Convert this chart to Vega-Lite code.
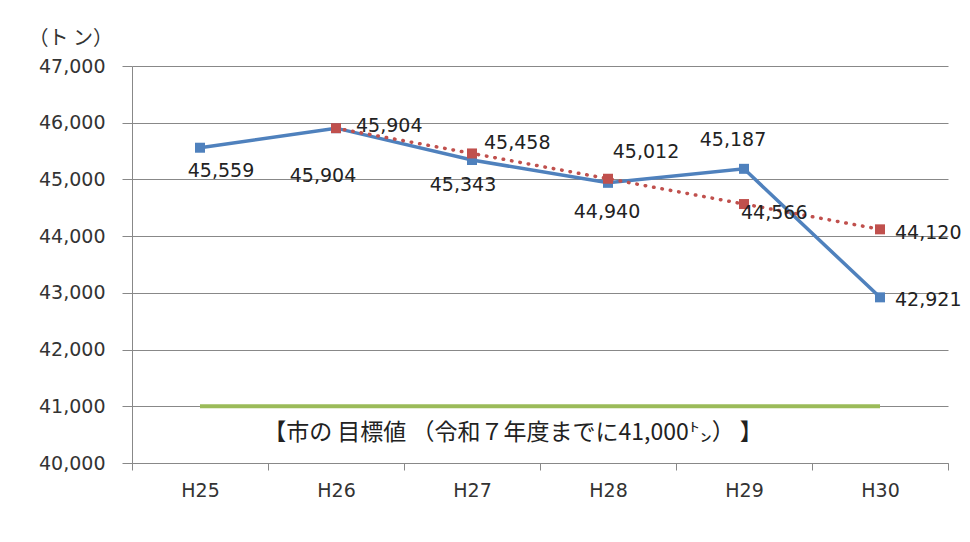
{
  "$schema": "https://vega.github.io/schema/vega-lite/v6.json",
  "width": 816,
  "height": 397,
  "autosize": {"type": "none"},
  "padding": {"left": 132, "top": 66, "right": 22, "bottom": 79},
  "background": "white",
  "config": {"view": {"stroke": null}},
  "data": {
    "values": [
      {"year": "H25", "series": "actual", "value": 45559},
      {"year": "H26", "series": "actual", "value": 45904},
      {"year": "H27", "series": "actual", "value": 45343},
      {"year": "H28", "series": "actual", "value": 44940},
      {"year": "H29", "series": "actual", "value": 45187},
      {"year": "H30", "series": "actual", "value": 42921},
      {"year": "H26", "series": "plan", "value": 45904},
      {"year": "H27", "series": "plan", "value": 45458},
      {"year": "H28", "series": "plan", "value": 45012},
      {"year": "H29", "series": "plan", "value": 44566},
      {"year": "H30", "series": "plan", "value": 44120},
      {"year": "H25", "series": "target", "value": 41000},
      {"year": "H26", "series": "target", "value": 41000},
      {"year": "H27", "series": "target", "value": 41000},
      {"year": "H28", "series": "target", "value": 41000},
      {"year": "H29", "series": "target", "value": 41000},
      {"year": "H30", "series": "target", "value": 41000},
      {"year": "H27", "series": "targetlabel", "value": 41000, "label": "【市の 目標値 （令和７年度までに41,000㌧） 】"}
    ]
  },
  "encoding": {
    "x": {
      "field": "year", "type": "ordinal", "bandPosition": 0.5,
      "scale": {"type": "band", "paddingInner": 0, "paddingOuter": 0},
      "axis": {
        "title": null, "labelAngle": 0, "tickBand": "extent",
        "domainColor": "#888888", "tickColor": "#888888", "tickSize": 7,
        "labelFont": "DejaVu Sans", "labelFontSize": 19, "labelFontWeight": "normal", "labelColor": "#333333",
        "labelPadding": 11, "grid": false
      }
    },
    "y": {
      "field": "value", "type": "quantitative",
      "scale": {"domain": [40000, 47000], "nice": false, "zero": false},
      "axis": {
        "values": [40000, 41000, 42000, 43000, 44000, 45000, 46000, 47000],
        "format": ",d", "grid": true, "gridColor": "#888888",
        "domainColor": "#888888", "tickColor": "#888888", "tickSize": 10,
        "labelFont": "DejaVu Sans", "labelFontSize": 19, "labelColor": "#333333",
        "labelPadding": 17,
        "title": "（ト ン）", "titleAngle": 0, "titleAlign": "left", "titleBaseline": "middle",
        "titleX": -104, "titleY": -28, "titleFont": "Noto Sans CJK JP",
        "titleFontSize": 20, "titleFontWeight": "normal", "titleColor": "#333333"
      }
    }
  },
  "layer": [
    {
      "transform": [{"filter": "datum.series == 'target'"}],
      "mark": {"type": "line", "color": "#9BBB59", "strokeWidth": 4}
    },
    {
      "transform": [{"filter": "datum.series == 'actual'"}],
      "mark": {"type": "line", "color": "#4F81BD", "strokeWidth": 3.5,
        "point": {"shape": "square", "size": 100, "filled": true, "color": "#4F81BD", "opacity": 1}}
    },
    {
      "transform": [{"filter": "datum.series == 'plan'"}],
      "mark": {"type": "line", "color": "#C0504D", "strokeWidth": 3.5, "strokeDash": [0.5, 8], "strokeCap": "round",
        "point": {"shape": "square", "size": 100, "filled": true, "color": "#C0504D", "opacity": 1}}
    },
    {
      "transform": [{"filter": "datum.series == 'targetlabel'"}],
      "mark": {"type": "text", "font": "Noto Sans CJK JP", "fontSize": 23, "color": "#222222", "dx": 41, "dy": 27, "align": "center", "baseline": "middle"},
      "encoding": {"text": {"field": "label"}}
    },
    {
      "transform": [{"filter": "datum.series == 'actual' && datum.year == 'H25'"}],
      "mark": {"type": "text", "font": "DejaVu Sans", "fontSize": 19, "color": "#222222", "dx": 21, "dy": 23},
      "encoding": {"text": {"field": "value", "format": ",d"}}
    },
    {
      "transform": [{"filter": "datum.series == 'actual' && datum.year == 'H26'"}],
      "mark": {"type": "text", "font": "DejaVu Sans", "fontSize": 19, "color": "#222222", "dx": -13, "dy": 48},
      "encoding": {"text": {"field": "value", "format": ",d"}}
    },
    {
      "transform": [{"filter": "datum.series == 'actual' && datum.year == 'H27'"}],
      "mark": {"type": "text", "font": "DejaVu Sans", "fontSize": 19, "color": "#222222", "dx": -9, "dy": 25},
      "encoding": {"text": {"field": "value", "format": ",d"}}
    },
    {
      "transform": [{"filter": "datum.series == 'actual' && datum.year == 'H28'"}],
      "mark": {"type": "text", "font": "DejaVu Sans", "fontSize": 19, "color": "#222222", "dx": -1, "dy": 29},
      "encoding": {"text": {"field": "value", "format": ",d"}}
    },
    {
      "transform": [{"filter": "datum.series == 'actual' && datum.year == 'H29'"}],
      "mark": {"type": "text", "font": "DejaVu Sans", "fontSize": 19, "color": "#222222", "dx": -11, "dy": -29},
      "encoding": {"text": {"field": "value", "format": ",d"}}
    },
    {
      "transform": [{"filter": "datum.series == 'actual' && datum.year == 'H30'"}],
      "mark": {"type": "text", "font": "DejaVu Sans", "fontSize": 19, "color": "#222222", "align": "left", "dx": 15, "dy": 3},
      "encoding": {"text": {"field": "value", "format": ",d"}}
    },
    {
      "transform": [{"filter": "datum.series == 'plan' && datum.year == 'H26'"}],
      "mark": {"type": "text", "font": "DejaVu Sans", "fontSize": 19, "color": "#222222", "align": "left", "dx": 20, "dy": -2},
      "encoding": {"text": {"field": "value", "format": ",d"}}
    },
    {
      "transform": [{"filter": "datum.series == 'plan' && datum.year == 'H27'"}],
      "mark": {"type": "text", "font": "DejaVu Sans", "fontSize": 19, "color": "#222222", "align": "left", "dx": 12, "dy": -10},
      "encoding": {"text": {"field": "value", "format": ",d"}}
    },
    {
      "transform": [{"filter": "datum.series == 'plan' && datum.year == 'H28'"}],
      "mark": {"type": "text", "font": "DejaVu Sans", "fontSize": 19, "color": "#222222", "dx": 38, "dy": -27},
      "encoding": {"text": {"field": "value", "format": ",d"}}
    },
    {
      "transform": [{"filter": "datum.series == 'plan' && datum.year == 'H29'"}],
      "mark": {"type": "text", "font": "DejaVu Sans", "fontSize": 19, "color": "#222222", "align": "left", "dx": -3, "dy": 9},
      "encoding": {"text": {"field": "value", "format": ",d"}}
    },
    {
      "transform": [{"filter": "datum.series == 'plan' && datum.year == 'H30'"}],
      "mark": {"type": "text", "font": "DejaVu Sans", "fontSize": 19, "color": "#222222", "align": "left", "dx": 15, "dy": 4},
      "encoding": {"text": {"field": "value", "format": ",d"}}
    }
  ]
}
